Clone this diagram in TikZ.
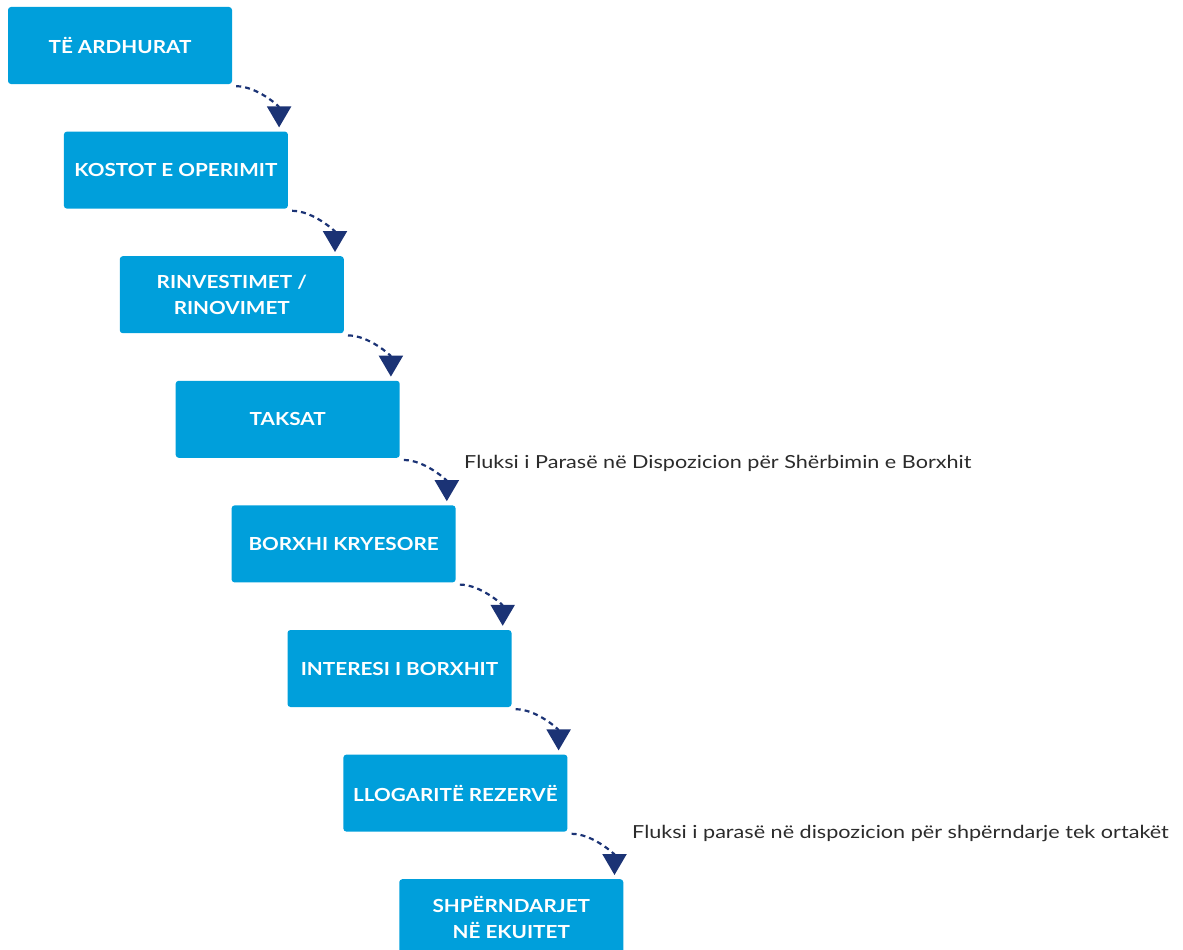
\documentclass[tikz,border=0pt]{standalone}
\usepackage{fontspec}
\setmainfont{Lato}
\newfontfamily\boxfont[FakeStretch=1.15]{Lato}
\newfontfamily\notefont[FakeStretch=1.2]{Lato}
\usetikzlibrary{arrows.meta,calc}
\definecolor{boxblue}{HTML}{009FDB}
\definecolor{navy}{HTML}{1B3375}
\definecolor{txtgray}{HTML}{2B2B2B}
\begin{document}
\begin{tikzpicture}[x=1pt,y=-1pt,
  stepbox/.style={fill=boxblue, rounded corners=3pt, minimum width=224pt, minimum height=77pt,
    text=white, font=\boxfont\fontsize{18}{26}\selectfont\bfseries, align=center, inner sep=0pt},
  flow/.style={navy, line width=2.2pt, dash pattern=on 5pt off 4pt,
    -{Triangle[width=24pt,length=21pt,sep=0pt]}},
  note/.style={anchor=west, text=txtgray, font=\notefont\fontsize{18}{22}\selectfont, inner sep=0pt}]
\useasboundingbox (0,0) rectangle (1183,950);
\node[stepbox] (b0) at (120,45.5) {TË ARDHURAT};
\node[stepbox] (b1) at (175.9,170.1) {KOSTOT E OPERIMIT};
\node[stepbox] (b2) at (231.8,294.7) {RINVESTIMET /\\RINOVIMET};
\node[stepbox] (b3) at (287.7,419.3) {TAKSAT};
\node[stepbox] (b4) at (343.6,543.9) {BORXHI KRYESORE};
\node[stepbox] (b5) at (399.5,668.5) {INTERESI I BORXHIT};
\node[stepbox] (b6) at (455.4,793.1) {LLOGARITË REZERVË};
\node[stepbox] (b7) at (511.3,917.7) {SHPËRNDARJET\\NË EKUITET};
\foreach \i/\j in {0/1,1/2,2/3,3/4,4/5,5/6,6/7}{
  \coordinate (a\i) at ($(b\i.south east)+(4,2)$);
  \coordinate (t\i) at ($(b\j.north east)+(-9,-4)$);
  \draw[flow] (a\i) to[out=0,in=90,looseness=0.9] (t\i);
}
\node[note] (n1) at (464,463) {Fluksi i Parasë në Dispozicion për Shërbimin e Borxhit};
\node[note] (n2) at (632,833) {Fluksi i parasë në dispozicion për shpërndarje tek ortakët};
\end{tikzpicture}
\end{document}
